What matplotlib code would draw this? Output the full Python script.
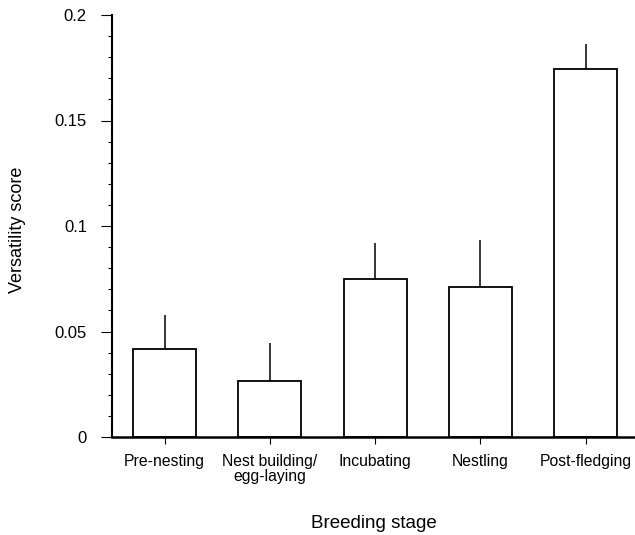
import matplotlib
matplotlib.use("Agg")
import matplotlib.pyplot as plt
import numpy as np
from matplotlib.ticker import MultipleLocator, FixedLocator

stages = ["Pre-nesting", "Nest building/\negg-laying", "Incubating", "Nestling", "Post-fledging"]
scores = [0.0417, 0.0265, 0.0749, 0.0711, 0.1744]
errors = [0.0161, 0.0180, 0.0171, 0.0223, 0.0119]
yticks = [0, 0.05, 0.1, 0.15, 0.2]
ytick_labels = ["0", "0.05", "0.1", "0.15", "0.2"]

plt.rcParams['font.family'] = ['Liberation Sans', 'DejaVu Sans']

fig = plt.figure(figsize=(6.35, 5.35), dpi=100)
ax = fig.add_axes([112 / 635, 1 - 437 / 535, 1 - 112 / 635, (437 - 15) / 535])

x = np.arange(len(stages))
ax.bar(x, scores, width=0.6, color="white", edgecolor="black", linewidth=1.3, zorder=2)
ax.errorbar(x, scores, yerr=[np.zeros(len(errors)), errors], fmt="none",
            ecolor="black", elinewidth=1.1, capsize=0, zorder=1)

# x axis runs right up to the figure edge
ax.set_xlim(-0.5, 4.47)
ax.set_ylim(0, 0.2)

ax.spines['top'].set_visible(False)
ax.spines['right'].set_visible(False)
ax.spines['left'].set_linewidth(1.5)
ax.spines['bottom'].set_linewidth(1.8)

ax.yaxis.set_major_locator(FixedLocator(yticks))
ax.set_yticklabels(ytick_labels, fontsize=12)
ax.yaxis.set_minor_locator(MultipleLocator(0.01))
ax.tick_params(axis='y', which='major', length=8, width=0.8, direction='out', pad=10)
ax.tick_params(axis='y', which='minor', length=3, width=0.8, direction='out')

ax.set_xticks(x)
ax.set_xticklabels(stages, fontsize=11.3, linespacing=1.05)
ax.tick_params(axis='x', length=5, width=0.8, direction='out', pad=7)

ax.set_ylabel("Versatility score", fontsize=13, va='center')
ax.yaxis.set_label_coords(-0.18, 0.49)
ax.set_xlabel("Breeding stage", fontsize=13.5, va='center')
ax.xaxis.set_label_coords(0.5, -0.205)

fig.savefig("out.png", dpi=100)
